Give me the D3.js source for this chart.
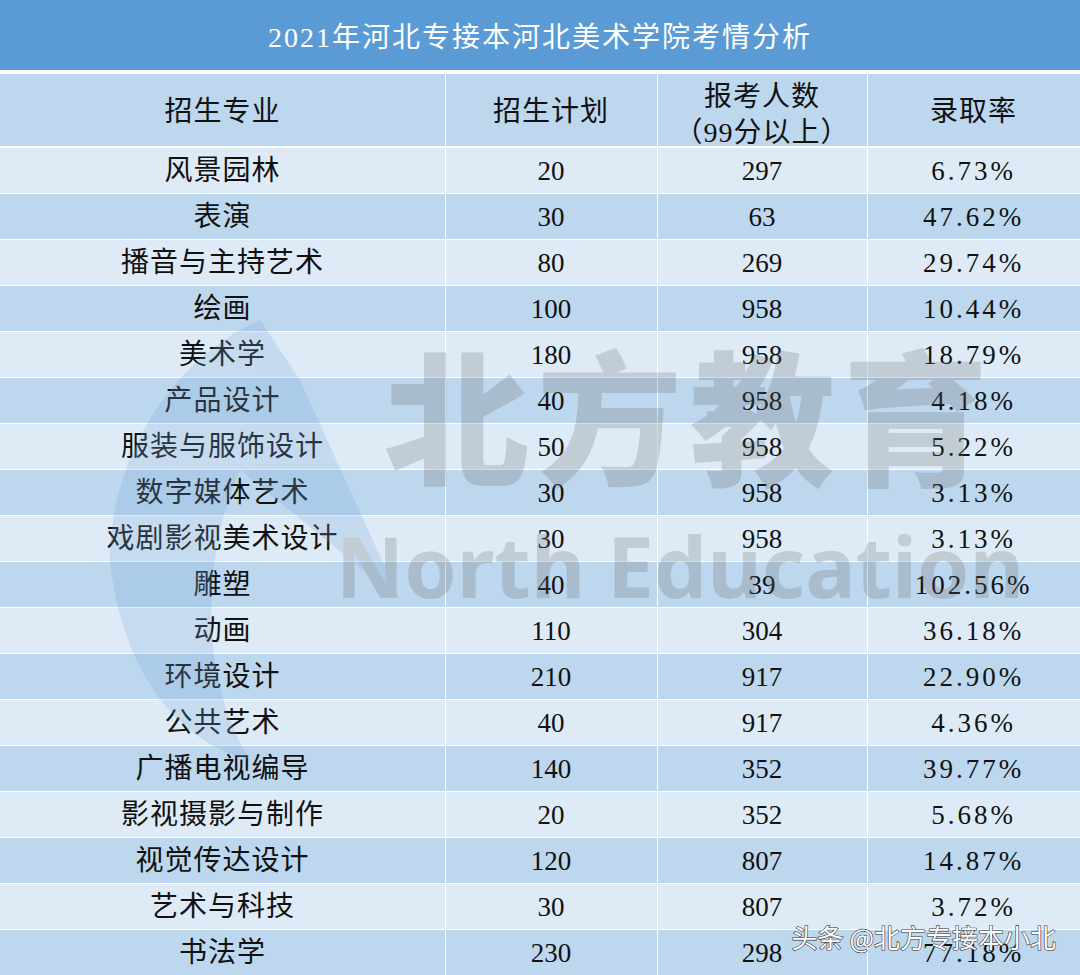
<!DOCTYPE html><html><head><meta charset="utf-8"><script src="https://d3js.org/d3.v7.min.js"></script>
<style>body{margin:0;background:#fff}</style></head><body><script>
const title="2021年河北专接本河北美术学院考情分析";
const headers=["招生专业","招生计划","报考人数\n（99分以上）","录取率"];
const majors=["风景园林","表演","播音与主持艺术","绘画","美术学","产品设计","服装与服饰设计","数字媒体艺术","戏剧影视美术设计","雕塑","动画","环境设计","公共艺术","广播电视编导","影视摄影与制作","视觉传达设计","艺术与科技","书法学"];
const plan=[20,30,80,100,180,40,50,30,30,40,110,210,40,140,20,120,30,230];
const applicants=[297,63,269,958,958,958,958,958,958,39,304,917,917,352,352,807,807,298];
const rates=["6.73%","47.62%","29.74%","10.44%","18.79%","4.18%","5.22%","3.13%","3.13%","102.56%","36.18%","22.90%","4.36%","39.77%","5.68%","14.87%","3.72%","77.18%"];
const W=1080,H=975;
const svg=d3.select("body").append("svg").attr("width",W).attr("height",H);
const font="'Liberation Serif','Noto Sans CJK SC',serif";
const colEdges=[0,445,657,867,1080];
svg.append("rect").attr("width",W).attr("height",70).attr("fill","#5b9bd5");
svg.append("text").attr("x",W/2).attr("y",47).attr("text-anchor","middle").attr("fill","#fff").attr("font-size",28).attr("font-family",font).attr("letter-spacing",2).text(title);
const hY=74,hH=73;
headers.forEach((h,i)=>{
 svg.append("rect").attr("x",colEdges[i]+(i?1:0)).attr("y",hY).attr("width",colEdges[i+1]-colEdges[i]-(i?1:0)).attr("height",hH-1).attr("fill","#bdd7ee");
 const lines=h.split("\n");
 lines.forEach((l,j)=>{
  svg.append("text").attr("x",(colEdges[i]+colEdges[i+1])/2).attr("y",lines.length==1?hY+47:hY+32+j*36).attr("text-anchor","middle").attr("font-size",28).attr("font-family",font).attr("fill","#111").attr("letter-spacing",1).text(l);
 });
});
const ry=d3.scaleBand().domain(d3.range(18)).range([147,975]);
const rows=svg.selectAll("g.r").data(majors).join("g").attr("transform",(d,i)=>`translate(0,${ry(i)})`);
for(let c=0;c<4;c++){
 rows.append("rect").attr("x",colEdges[c]+(c?1:0)).attr("y",1).attr("width",colEdges[c+1]-colEdges[c]-(c?1:0)).attr("height",ry.bandwidth()-1)
  .attr("fill",(d,i)=>i%2?"#bdd7ee":"#deebf7");
}
const vals=[majors,plan,applicants,rates];
for(let c=0;c<4;c++){
 rows.append("text").attr("x",(colEdges[c]+colEdges[c+1])/2).attr("y",33).attr("text-anchor","middle").attr("font-size",c==0?28:27).attr("font-family",font).attr("fill","#111")
  .attr("letter-spacing",c==3?3:(c==0?1:0)).text((d,i)=>vals[c][i]);
}
const wm=svg.append("g").attr("opacity",0.24).attr("pointer-events","none");
wm.append("path").attr("d","M260,320 C170,360 110,460 110,560 C120,660 170,740 250,760 C200,680 200,560 240,470 L400,600 L300,380 Z").attr("fill","#7aa7d6");
wm.append("text").attr("x",690).attr("y",475).attr("text-anchor","middle").attr("font-size",145).attr("font-weight",900).attr("font-family","'Noto Sans CJK SC'").attr("fill","#6b6b6b").attr("letter-spacing",8).text("北方教育");
wm.append("text").attr("x",680).attr("y",598).attr("text-anchor","middle").attr("font-size",84).attr("font-weight",700).attr("font-family","'Noto Sans',sans-serif").attr("fill","#6b6b6b").text("North Education");
svg.append("text").attr("x",1056).attr("y",948).attr("text-anchor","end").attr("font-size",26).attr("font-family","'Noto Sans CJK SC',sans-serif").attr("fill","#fff").attr("stroke","#333").attr("stroke-width",1.2).attr("paint-order","stroke").text("头条 @北方专接本小北");
</script></body></html>
